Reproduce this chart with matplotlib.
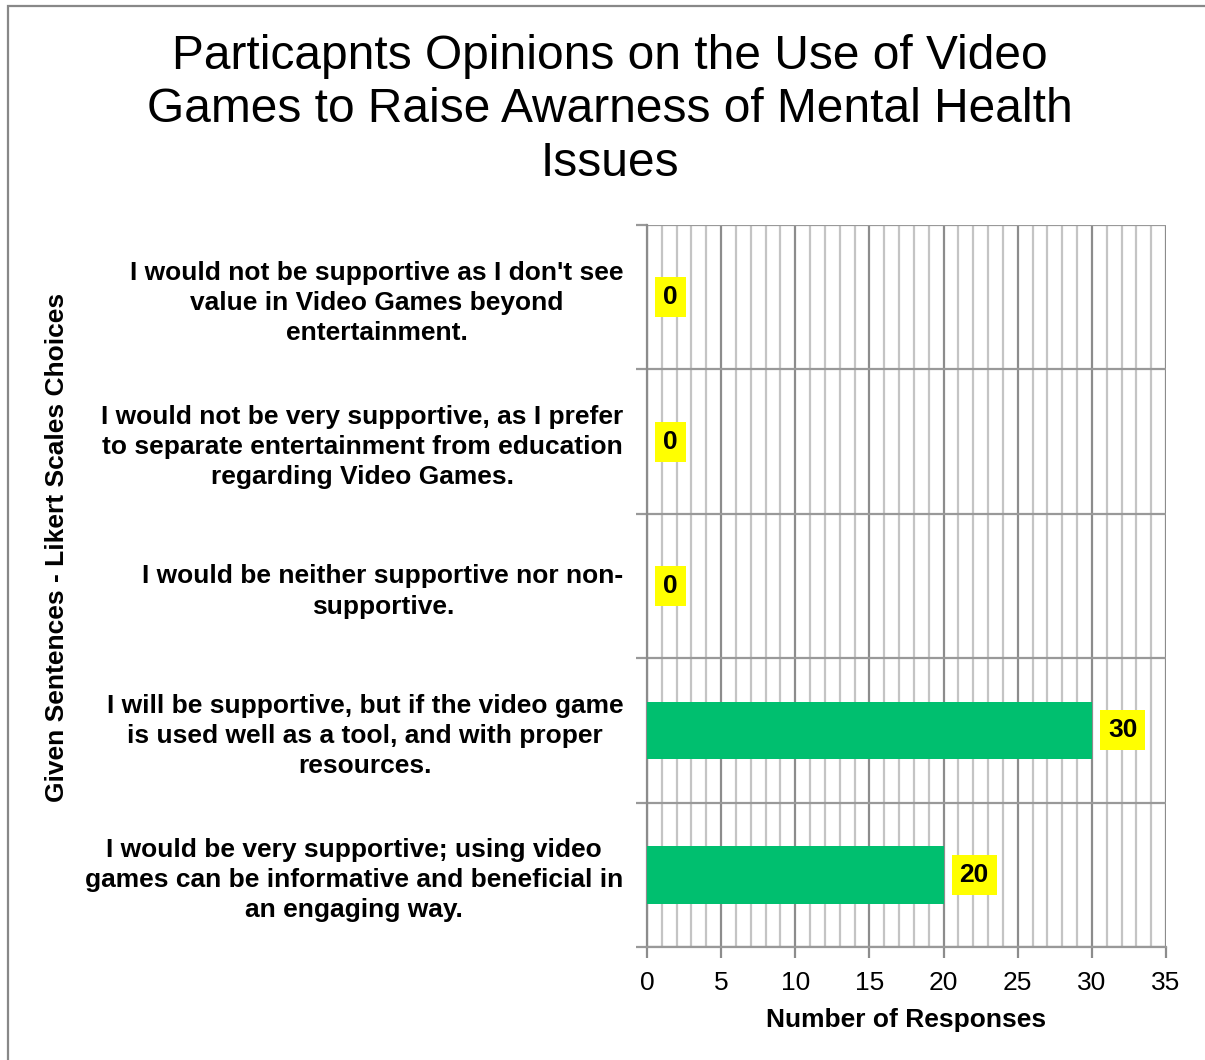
import matplotlib
matplotlib.use("Agg")
import matplotlib.pyplot as plt
from matplotlib.patches import Rectangle
from matplotlib.ticker import MultipleLocator, FixedLocator

plt.rcParams['font.family'] = ['Liberation Sans', 'DejaVu Sans']

categories = [
    "I would not be supportive as I don't see\nvalue in Video Games beyond\nentertainment.",
    "I would not be very supportive, as I prefer\nto separate entertainment from education\nregarding Video Games.",
    "I would be neither supportive nor non-\nsupportive.",
    "I will be supportive, but if the video game\nis used well as a tool, and with proper\nresources.",
    "I would be very supportive; using video\ngames can be informative and beneficial in\nan engaging way.",
]
responses = [0, 0, 0, 30, 20]
x_ticks = [0, 5, 10, 15, 20, 25, 30, 35]

title = "Particapnts Opinions on the Use of Video\nGames to Raise Awarness of Mental Health\nIssues"
x_label = "Number of Responses"
y_label = "Given Sentences - Likert Scales Choices"

W, H = 1205, 1060
fig = plt.figure(figsize=(W / 100, H / 100), dpi=100)
ax = fig.add_axes([647 / W, 1 - 947 / H, (1166 - 647) / W, (947 - 225) / H])

ypos = list(range(len(categories)))
ax.barh(ypos, responses, height=0.4, color="#00BF6F", zorder=3)

ax.set_xlim(x_ticks[0], x_ticks[-1])
ax.set_ylim(len(categories) - 0.5, -0.5)

# x grid: light minor lines every unit, darker majors every 5
ax.xaxis.set_major_locator(FixedLocator(x_ticks))
ax.xaxis.set_minor_locator(MultipleLocator(1))
ax.grid(axis="x", which="minor", color="#c4c4c4", linewidth=1.6, zorder=0)
ax.grid(axis="x", which="major", color="#8c8c8c", linewidth=1.6, zorder=0)
ax.tick_params(axis="x", which="major", length=8, width=1.6, color="#8c8c8c",
               labelsize=19, pad=9)
ax.tick_params(axis="x", which="minor", length=0)

# y: category boundaries drawn as grid lines, labels at bar centres
ax.set_yticks(ypos)
ax.set_yticklabels(categories, fontsize=19, fontweight="bold",
                   multialignment="center", linespacing=1.32)
bounds = [i - 0.5 for i in range(len(categories) + 1)]
ax.yaxis.set_minor_locator(FixedLocator(bounds))
ax.grid(axis="y", which="minor", color="#999999", linewidth=1.6, zorder=0)
ax.tick_params(axis="y", which="major", length=0, pad=17)
ax.tick_params(axis="y", which="minor", length=8, width=1.6, color="#999999")

for side in ["top", "right"]:
    ax.spines[side].set_visible(False)
ax.spines["left"].set_color("#8c8c8c")
ax.spines["left"].set_linewidth(1.6)
ax.spines["bottom"].set_color("#999999")
ax.spines["bottom"].set_linewidth(1.6)

for y, v in zip(ypos, responses):
    ax.annotate(str(v), xy=(v, y), xytext=(16, 0), textcoords="offset pixels",
                ha="left", va="center", fontsize=19, fontweight="bold",
                bbox=dict(boxstyle="square,pad=0.3", fc="#FFFF00", ec="none"),
                zorder=4)

ax.set_xlabel(x_label, fontsize=19, fontweight="bold", labelpad=10)

fig.text(610 / W, 1 - 110 / H, title, ha="center", va="center", fontsize=34.5,
         linespacing=1.23)
fig.text(57 / W, 1 - 547 / H, y_label, ha="center", va="center", rotation=90,
         fontsize=19, fontweight="bold")

fig.patches.append(Rectangle((8 / W, -0.05), 1.2, 1 - 6 / H + 0.05,
                             transform=fig.transFigure, fill=False,
                             edgecolor="#888888", linewidth=1.6))

fig.savefig("out.png", dpi=100)
